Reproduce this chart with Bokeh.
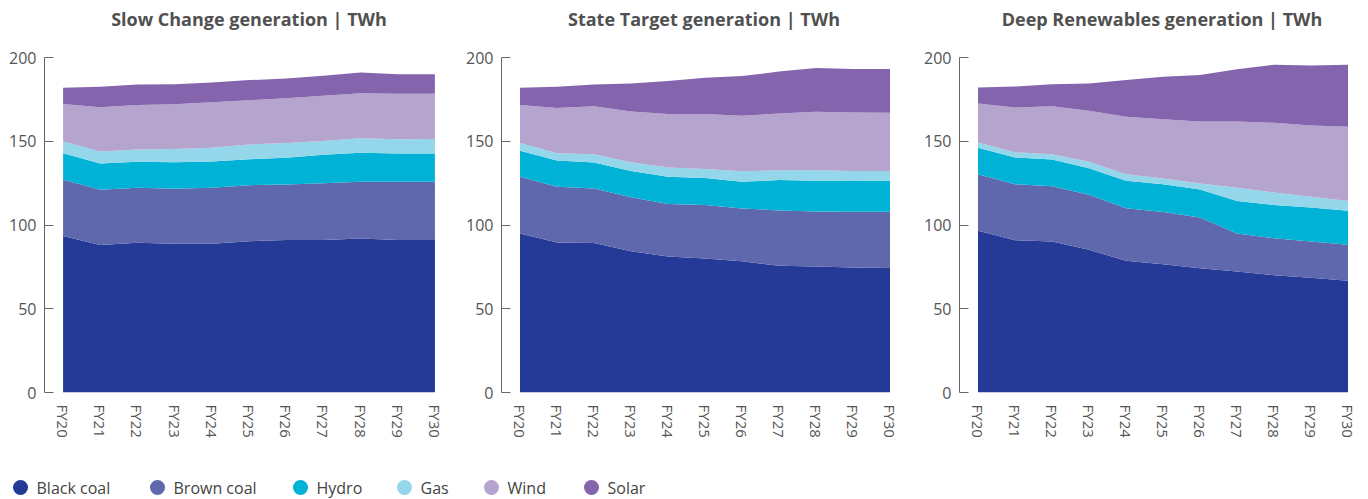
from bokeh.plotting import figure
from bokeh.layouts import column, row
from bokeh.models import ColumnDataSource, FixedTicker, Range1d
from bokeh.core.properties import value
from bokeh.embed import file_html
from bokeh.resources import INLINE

# ---------------- data ----------------
years = ["FY20", "FY21", "FY22", "FY23", "FY24", "FY25", "FY26", "FY27", "FY28", "FY29", "FY30"]
series = ["Black coal", "Brown coal", "Hydro", "Gas", "Wind", "Solar"]
colors = ["#243a96", "#5f67ad", "#00b3d6", "#94d7ea", "#b4a4ce", "#8465ad"]
titles = ["Slow Change generation | TWh", "State Target generation | TWh", "Deep Renewables generation | TWh"]
y_ticks = [0, 50, 100, 150, 200]

slow_black = [93.5, 88.0, 89.4, 88.8, 88.8, 90.3, 91.0, 91.0, 92.0, 91.1, 91.1]
slow_brown = [33.5, 33.0, 32.8, 32.8, 33.4, 33.5, 33.2, 34.0, 33.8, 34.7, 34.7]
slow_hydro = [15.9, 15.7, 15.5, 15.9, 15.7, 15.5, 15.9, 16.9, 17.3, 16.9, 16.9]
slow_gas = [7.0, 7.2, 7.4, 7.8, 8.2, 8.8, 8.8, 8.3, 8.7, 8.5, 8.7]
slow_wind = [22.4, 26.4, 26.6, 26.8, 27.2, 26.4, 26.8, 26.9, 26.9, 27.1, 26.9]
slow_solar = [9.6, 12.2, 12.2, 12.0, 11.8, 12.0, 11.8, 12.0, 12.3, 11.7, 11.7]

state_black = [94.9, 89.6, 89.2, 84.4, 81.2, 80.0, 78.4, 75.6, 75.2, 74.6, 74.4]
state_brown = [33.9, 33.2, 32.6, 32.2, 31.4, 32.0, 31.5, 33.1, 32.9, 33.3, 33.5]
state_hydro = [15.5, 15.7, 15.5, 15.7, 16.2, 16.0, 15.9, 18.1, 18.3, 18.3, 18.5]
state_gas = [4.6, 4.4, 5.0, 5.2, 5.5, 5.5, 6.3, 5.9, 6.3, 6.1, 5.9]
state_wind = [22.8, 26.9, 28.6, 30.3, 31.9, 32.7, 33.1, 33.9, 34.9, 34.9, 34.7]
state_solar = [10.2, 12.7, 13.0, 16.7, 19.7, 21.7, 23.7, 25.0, 26.2, 26.0, 26.2]

deep_black = [96.5, 90.9, 90.1, 85.2, 78.6, 76.6, 74.2, 72.2, 70.0, 68.5, 66.7]
deep_brown = [33.8, 33.5, 33.1, 32.8, 31.4, 31.2, 30.3, 22.7, 22.1, 21.6, 21.5]
deep_hydro = [15.8, 15.9, 15.9, 15.9, 16.4, 16.6, 16.7, 19.5, 19.9, 20.3, 20.3]
deep_gas = [3.2, 3.2, 3.2, 3.8, 3.9, 3.4, 3.6, 7.8, 7.4, 6.4, 5.9]
deep_wind = [23.2, 26.6, 28.6, 30.5, 34.3, 35.4, 37.0, 39.6, 41.6, 42.6, 44.2]
deep_solar = [9.6, 12.6, 13.2, 16.3, 21.9, 25.3, 27.7, 31.2, 34.6, 35.8, 37.0]

scenarios = [
    [slow_black, slow_brown, slow_hydro, slow_gas, slow_wind, slow_solar],
    [state_black, state_brown, state_hydro, state_gas, state_wind, state_solar],
    [deep_black, deep_brown, deep_hydro, deep_gas, deep_wind, deep_solar],
]

# ---------------- layout ----------------
FONT = "Open Sans"
TXT = "#555555"
W = 1368
widths = [463, 458, 447]
border_left = [44, 36, 36]
border_right = [10, 13, 2]
HH = 40          # header (titles) height
PH = 415         # panel height
LH = 44          # legend height

panels = []
for i in range(3):
    data = {"x": list(range(len(years)))}
    for name, vals in zip(series, scenarios[i]):
        data[name] = vals
    src = ColumnDataSource(data)
    p = figure(width=widths[i], height=PH, output_backend="svg", toolbar_location=None,
               x_range=Range1d(-0.5, 10.5), y_range=Range1d(0, 200),
               min_border_left=border_left[i], min_border_right=border_right[i],
               min_border_top=17, min_border_bottom=63)
    p.varea_stack(stackers=series, x="x", color=colors, source=src)
    p.outline_line_color = None
    p.grid.visible = False
    p.background_fill_color = None
    p.border_fill_color = "white"

    ya = p.yaxis[0]
    ya.ticker = FixedTicker(ticks=y_ticks)
    ya.axis_line_color = "#666666"
    ya.major_tick_line_color = "#666666"
    ya.major_tick_in = 9
    ya.major_tick_out = 0
    ya.minor_tick_line_color = None
    ya.major_label_standoff = 8
    ya.major_label_text_font = FONT
    ya.major_label_text_font_size = "16px"
    ya.major_label_text_color = TXT

    xa = p.xaxis[0]
    xa.ticker = FixedTicker(ticks=list(range(len(years))))
    xa.major_label_overrides = {k: years[k] for k in range(len(years))}
    xa.axis_line_color = None
    xa.major_tick_line_color = None
    xa.minor_tick_line_color = None
    xa.major_label_orientation = "vertical"
    xa.major_label_standoff = 6
    xa.major_label_text_font = FONT
    xa.major_label_text_font_size = "15px"
    xa.major_label_text_color = TXT
    panels.append(p)

# ---------------- titles (header strip, centred over each plot frame) ----------------
centers = []
left = 0
for i in range(3):
    frame_w = widths[i] - border_left[i] - border_right[i]
    centers.append(left + border_left[i] + frame_w / 2)
    left += widths[i]

hd = figure(width=W, height=HH, output_backend="svg", toolbar_location=None,
            x_range=Range1d(0, W), y_range=Range1d(0, HH),
            min_border=0, x_axis_location=None, y_axis_location=None)
hd.outline_line_color = None
hd.grid.visible = False
hd.text(x=centers, y=[HH - 18] * 3, text=titles,
        text_font=value(FONT), text_font_size="18px", text_font_style="bold",
        text_color="#505050", text_align="center", text_baseline="middle")

# ---------------- legend ----------------
leg_x = [20, 157, 300, 404, 491, 591]
lg = figure(width=W, height=LH, output_backend="svg", toolbar_location=None,
            x_range=Range1d(0, W), y_range=Range1d(0, LH),
            min_border=0, x_axis_location=None, y_axis_location=None)
lg.outline_line_color = None
lg.grid.visible = False
ly = 12
lg.scatter(x=leg_x, y=[ly] * len(series), size=15, marker="circle",
           fill_color=colors, line_color=None)
lg.text(x=[v + 16 for v in leg_x], y=[ly] * len(series), text=series,
        text_font=value(FONT), text_font_size="16px", text_color="#444444",
        text_baseline="middle", text_align="left")

layout = column(hd, row(*panels, spacing=0), lg, spacing=0)
open("out.html", "w").write(file_html(layout, INLINE))
